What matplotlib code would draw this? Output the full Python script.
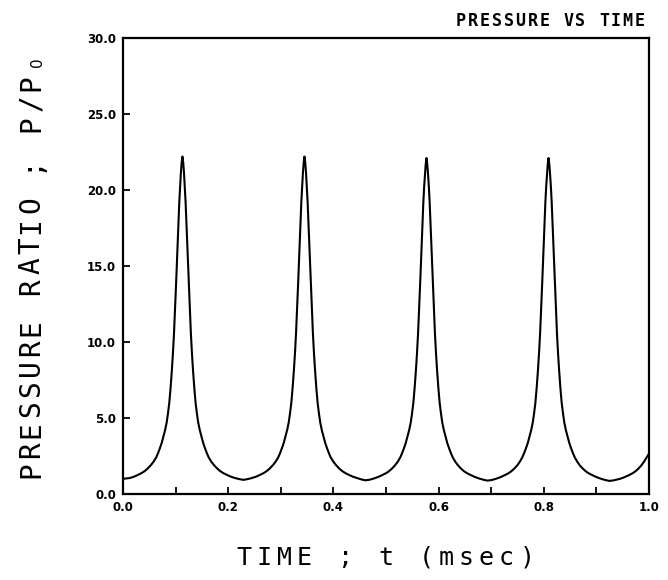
import matplotlib
matplotlib.use("Agg")
import matplotlib.pyplot as plt

# values, one pair of lists per peak
t_peak1 = [0.000, 0.013, 0.021, 0.028, 0.035, 0.041, 0.047, 0.053, 0.058, 0.063,
           0.0665, 0.070, 0.0735, 0.077, 0.080, 0.083, 0.0855, 0.088, 0.0905, 0.093,
           0.095, 0.097, 0.099, 0.101, 0.1025, 0.104, 0.1055, 0.107, 0.1085, 0.110,
           0.1115, 0.113,
           0.1145, 0.116, 0.1175, 0.119, 0.1205, 0.122, 0.1235, 0.125, 0.127, 0.129,
           0.131, 0.133, 0.1355, 0.138, 0.1405, 0.143, 0.146, 0.149, 0.1525, 0.156,
           0.1595, 0.163, 0.168, 0.173, 0.179, 0.185, 0.191, 0.198, 0.205, 0.213,
           0.221, 0.229]
p_peak1 = [1.00, 1.05, 1.14, 1.25, 1.37, 1.50, 1.68, 1.90, 2.12, 2.40,
           2.68, 3.00, 3.35, 3.80, 4.20, 4.70, 5.30, 6.00, 7.00, 8.20,
           9.30, 10.6, 12.2, 13.9, 15.2, 16.6, 17.9, 19.2, 20.2, 21.1,
           21.8, 22.2,
           21.8, 21.1, 20.2, 19.2, 17.9, 16.6, 15.2, 13.9, 12.2, 10.6,
           9.30, 8.20, 7.00, 6.00, 5.30, 4.70, 4.20, 3.80, 3.35, 3.00,
           2.68, 2.40, 2.12, 1.90, 1.68, 1.50, 1.37, 1.25, 1.14, 1.05,
           0.98, 0.93]

t_peak2 = [0.237, 0.245, 0.253, 0.260, 0.267, 0.273, 0.279, 0.285, 0.290, 0.295,
           0.2985, 0.302, 0.3055, 0.309, 0.312, 0.315, 0.3175, 0.320, 0.3225, 0.325,
           0.327, 0.329, 0.331, 0.333, 0.3345, 0.336, 0.3375, 0.339, 0.3405, 0.342,
           0.3435, 0.345,
           0.3465, 0.348, 0.3495, 0.351, 0.3525, 0.354, 0.3555, 0.357, 0.359, 0.361,
           0.363, 0.365, 0.3675, 0.370, 0.3725, 0.375, 0.378, 0.381, 0.3845, 0.388,
           0.3915, 0.395, 0.400, 0.405, 0.411, 0.417, 0.423, 0.430, 0.437, 0.445,
           0.453, 0.461]
p_peak2 = [0.98, 1.05, 1.14, 1.25, 1.37, 1.50, 1.68, 1.90, 2.12, 2.40,
           2.68, 3.00, 3.35, 3.80, 4.20, 4.70, 5.30, 6.00, 7.00, 8.20,
           9.30, 10.6, 12.2, 13.9, 15.2, 16.6, 17.9, 19.2, 20.2, 21.1,
           21.8, 22.2,
           21.8, 21.1, 20.2, 19.2, 17.9, 16.6, 15.2, 13.9, 12.2, 10.6,
           9.30, 8.20, 7.00, 6.00, 5.30, 4.70, 4.20, 3.80, 3.35, 3.00,
           2.68, 2.40, 2.12, 1.90, 1.68, 1.50, 1.37, 1.25, 1.14, 1.05,
           0.96, 0.90]

t_peak3 = [0.469, 0.477, 0.485, 0.492, 0.499, 0.505, 0.511, 0.517, 0.522, 0.527,
           0.5305, 0.534, 0.5375, 0.541, 0.544, 0.547, 0.5495, 0.552, 0.5545, 0.557,
           0.559, 0.561, 0.563, 0.565, 0.5665, 0.568, 0.5695, 0.571, 0.5725, 0.574,
           0.5755, 0.577,
           0.5785, 0.580, 0.5815, 0.583, 0.5845, 0.586, 0.5875, 0.589, 0.591, 0.593,
           0.595, 0.597, 0.5995, 0.602, 0.6045, 0.607, 0.610, 0.613, 0.6165, 0.620,
           0.6235, 0.627, 0.632, 0.637, 0.643, 0.649, 0.655, 0.662, 0.669, 0.677,
           0.685, 0.693]
p_peak3 = [0.94, 1.02, 1.12, 1.23, 1.35, 1.48, 1.66, 1.88, 2.11, 2.40,
           2.68, 3.00, 3.35, 3.80, 4.20, 4.70, 5.30, 6.00, 7.00, 8.20,
           9.30, 10.6, 12.2, 13.9, 15.2, 16.6, 17.9, 19.2, 20.2, 21.0,
           21.7, 22.1,
           21.7, 21.0, 20.2, 19.2, 17.9, 16.6, 15.2, 13.9, 12.2, 10.6,
           9.30, 8.20, 7.00, 6.00, 5.30, 4.70, 4.20, 3.80, 3.35, 3.00,
           2.68, 2.40, 2.11, 1.88, 1.66, 1.48, 1.35, 1.23, 1.12, 1.02,
           0.94, 0.88]

t_peak4 = [0.701, 0.709, 0.717, 0.724, 0.731, 0.737, 0.743, 0.749, 0.754, 0.759,
           0.7625, 0.766, 0.7695, 0.773, 0.776, 0.779, 0.7815, 0.784, 0.7865, 0.789,
           0.791, 0.793, 0.795, 0.797, 0.7985, 0.800, 0.8015, 0.803, 0.8045, 0.806,
           0.8075, 0.809,
           0.8105, 0.812, 0.8135, 0.815, 0.8165, 0.818, 0.8195, 0.821, 0.823, 0.825,
           0.827, 0.829, 0.8315, 0.834, 0.8365, 0.839, 0.842, 0.845, 0.8485, 0.852,
           0.8555, 0.859, 0.864, 0.869, 0.875, 0.881, 0.887, 0.894, 0.901, 0.909,
           0.917, 0.925]
p_peak4 = [0.92, 1.00, 1.10, 1.21, 1.33, 1.46, 1.64, 1.86, 2.10, 2.40,
           2.68, 3.00, 3.35, 3.80, 4.20, 4.70, 5.30, 6.00, 7.00, 8.20,
           9.30, 10.6, 12.2, 13.9, 15.2, 16.6, 17.9, 19.2, 20.2, 21.0,
           21.7, 22.1,
           21.7, 21.0, 20.2, 19.2, 17.9, 16.6, 15.2, 13.9, 12.2, 10.6,
           9.30, 8.20, 7.00, 6.00, 5.30, 4.70, 4.20, 3.80, 3.35, 3.00,
           2.68, 2.40, 2.10, 1.86, 1.64, 1.46, 1.33, 1.21, 1.10, 1.00,
           0.92, 0.86]

t_tail = [0.933, 0.945, 0.953, 0.960, 0.967, 0.973, 0.979, 0.985, 0.990, 0.995, 1.000]
p_tail = [0.90, 1.00, 1.10, 1.21, 1.33, 1.46, 1.64, 1.86, 2.10, 2.38, 2.65]

time = t_peak1 + t_peak2 + t_peak3 + t_peak4 + t_tail
pressure = p_peak1 + p_peak2 + p_peak3 + p_peak4 + p_tail

x_ticks = [0.0, 0.2, 0.4, 0.6, 0.8, 1.0]
x_minor = [0.1, 0.3, 0.5, 0.7, 0.9]
y_ticks = [0.0, 5.0, 10.0, 15.0, 20.0, 25.0, 30.0]

W, H = 668, 580
mono = "DejaVu Sans Mono"


def spaced(fig, s, x0, y0, pitch, size, rot=0, weight="normal"):
    # plotter lettering: each glyph on a fixed pitch (pixels)
    for i, ch in enumerate(s):
        if rot == 0:
            x, y = x0 + i * pitch, y0
        else:
            x, y = x0, y0 - i * pitch
        fig.text(x / W, 1 - y / H, ch, fontsize=size, family=mono,
                 weight=weight, ha="center", va="baseline",
                 rotation=rot, rotation_mode="anchor")


fig = plt.figure(figsize=(W / 100.0, H / 100.0), dpi=100)
ax = fig.add_axes([123 / W, 86 / H, 526 / W, 456 / H])

ax.plot(time, pressure, color="black", lw=1.5)

ax.set_xlim(0, 1.0)
ax.set_ylim(0, 30)
ax.set_xticks(x_ticks)
ax.set_xticks(x_minor, minor=True)
ax.set_yticks(y_ticks)
ax.set_xticklabels(["%.1f" % v for v in x_ticks])
ax.set_yticklabels(["%.1f" % v for v in y_ticks])
ax.tick_params(which="both", direction="in", length=5, width=1.3)
ax.tick_params(labelsize=8.5)
for lab in ax.get_xticklabels() + ax.get_yticklabels():
    lab.set_fontweight("bold")
ax.tick_params(axis="x", pad=5)
ax.tick_params(axis="y", pad=5)
for sp in ax.spines.values():
    sp.set_linewidth(1.6)

# title, x label, y label
spaced(fig, "PRESSURE VS TIME", 461, 26, 11.9, 12, weight="bold")
spaced(fig, "TIME ; t (msec)", 244, 565, 20.2, 18)
spaced(fig, "PRESSURE RATIO ; P/P", 39, 470, 20.4, 20, rot=90)
fig.text(42 / W, 1 - 62 / H, "0", fontsize=11, family="DejaVu Sans",
         ha="center", va="baseline", rotation=90, rotation_mode="anchor")

plt.savefig("out.png", dpi=100)
